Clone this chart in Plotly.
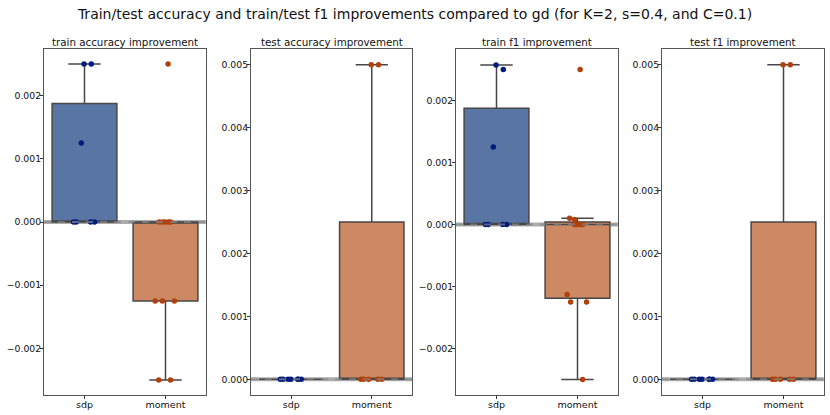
import plotly.graph_objects as go
from plotly.subplots import make_subplots

# improvement over gd, one value per run
methods = ["sdp", "moment"]
panel_titles = ["train accuracy improvement", "test accuracy improvement",
                "train f1 improvement", "test f1 improvement"]

train_acc_sdp = [0.0, 0.0, 0.0, 0.0, 0.00125, 0.0025, 0.0025]
train_acc_moment = [-0.0025, -0.0025, -0.00125, -0.00125, -0.00125,
                    0.0, 0.0, 0.0, 0.0, 0.0, 0.0025]
test_acc_sdp = [0.0, 0.0, 0.0, 0.0, 0.0, 0.0, 0.0]
test_acc_moment = [0.0, 0.0, 0.0, 0.0, 0.0, 0.005, 0.005]
train_f1_sdp = [0.0, 0.0, 0.0, 0.0, 0.00125, 0.0025, 0.00257]
train_f1_moment = [-0.0025, -0.00125, -0.00125, -0.00113, 0.0, 0.0,
                   0.0, 0.0, 0.00008, 0.0001, 0.0025]
test_f1_sdp = [0.0, 0.0, 0.0, 0.0, 0.0, 0.0, 0.0]
test_f1_moment = [0.0, 0.0, 0.0, 0.0, 0.0, 0.005, 0.005]

panels = [
    (train_acc_sdp, train_acc_moment),
    (test_acc_sdp, test_acc_moment),
    (train_f1_sdp, train_f1_moment),
    (test_f1_sdp, test_f1_moment),
]
y_ranges = [[-0.002737, 0.002737], [-0.00025, 0.00525],
            [-0.00275, 0.00283], [-0.00025, 0.00525]]
tick_vals = [[-0.002, -0.001, 0, 0.001, 0.002], [0, 0.001, 0.002, 0.003, 0.004, 0.005],
             [-0.002, -0.001, 0, 0.001, 0.002], [0, 0.001, 0.002, 0.003, 0.004, 0.005]]

box_fill = {"sdp": "#5875a4", "moment": "#cc8963"}
dot_col = {"sdp": "#001c7f", "moment": "#b1400d"}

W, H = 830, 415
x_px = [(44, 206), (251, 412), (456, 618), (662, 824)]
top_px, bot_px = 49, 395

fig = make_subplots(rows=1, cols=4)

for i, (sdp_vals, mom_vals) in enumerate(panels):
    for m, vals in zip(methods, (sdp_vals, mom_vals)):
        fig.add_trace(go.Box(
            x=[m] * len(vals), y=vals, name=m,
            boxpoints="all", jitter=0.4, pointpos=0,
            quartilemethod="inclusive", width=0.8,
            fillcolor=box_fill[m],
            line=dict(color="#474747", width=1.5),
            whiskerwidth=0.5,
            marker=dict(color=dot_col[m], size=5.5),
            showlegend=False, hoverinfo="skip",
        ), row=1, col=i + 1)

    ax = "" if i == 0 else str(i + 1)
    fig.layout["xaxis" + ax].update(
        domain=[x_px[i][0] / W, x_px[i][1] / W], automargin=False,
        categoryorder="array", categoryarray=methods, range=[-0.5, 1.5],
        showline=True, mirror=True, linecolor="#555", linewidth=1,
        ticks="outside", ticklen=3, tickcolor="#333", ticklabelstandoff=-2,
        tickfont=dict(size=9.5, color="#111"), showgrid=False,
    )
    fig.layout["yaxis" + ax].update(
        domain=[(H - bot_px) / H, (H - top_px) / H], automargin=False,
        range=y_ranges[i], tickvals=tick_vals[i], tickformat=".3f",
        showline=True, mirror=True, linecolor="#555", linewidth=1,
        ticks="outside", ticklen=3, tickcolor="#333", ticklabelstandoff=-3,
        tickfont=dict(size=9.3, color="#111"), showgrid=False, zeroline=False,
    )

    # reference line at 0
    xr = "x" + ax + " domain"
    yr = "y" + ax
    fig.add_shape(type="line", xref=xr, yref=yr, x0=0, x1=1, y0=0, y1=0,
                  line=dict(color="#acacac", width=4), layer="below")
    fig.add_shape(type="line", xref=xr, yref=yr, x0=0, x1=1, y0=0, y1=0,
                  line=dict(color="#888888", width=2, dash="7px,7px"), opacity=0.7, layer="above")

    fig.add_annotation(text=panel_titles[i], xref="paper", yref="paper",
                       x=(x_px[i][0] + x_px[i][1]) / 2 / W, y=1 - 42 / H,
                       xanchor="center", yanchor="middle", showarrow=False,
                       font=dict(size=10.3, color="#111"))

fig.update_layout(
    width=W, height=H,
    margin=dict(l=0, r=0, t=0, b=0),
    paper_bgcolor="white", plot_bgcolor="white",
    font=dict(family="DejaVu Sans"),
    boxmode="overlay",
    title=dict(text="Train/test accuracy and train/test f1 improvements compared to gd (for K=2, s=0.4, and C=0.1)",
               x=0.5, xanchor="center", y=1 - 14 / H, yanchor="middle",
               font=dict(size=14, color="#111")),
)

# drop the default 8px page margin so the figure sits at the window corner
fig.write_html("out.html", config={"displayModeBar": False},
               post_script="document.body.style.margin='0';")
